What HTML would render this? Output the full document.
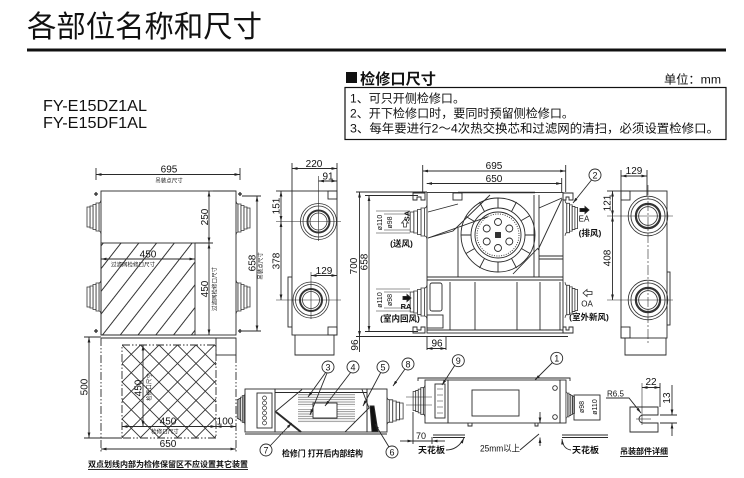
<!DOCTYPE html>
<html><head><meta charset="utf-8">
<style>
html,body{margin:0;padding:0;background:#fff;width:744px;height:478px;overflow:hidden;}
svg{display:block;}
text{font-family:"Liberation Sans","Noto Sans CJK SC",sans-serif;fill:#111;stroke:none;}
.b{font-weight:bold;}
.t{font-size:10px;text-anchor:middle;}
.s{font-size:5.5px;text-anchor:middle;}
.d{marker-start:url(#ar);marker-end:url(#ar);}
.dd{stroke-dasharray:8 2 1.5 2 1.5 2;}
</style></head><body>
<svg width="744" height="478" viewBox="0 0 744 478" xmlns="http://www.w3.org/2000/svg">
<defs>
<marker id="ar" viewBox="0 0 8 4" refX="8" refY="2" markerWidth="5.5" markerHeight="2.8" orient="auto-start-reverse" markerUnits="userSpaceOnUse"><path d="M0,0 L8,2 L0,4 z" fill="#222"/></marker>
<marker id="ae" viewBox="0 0 8 4" refX="8" refY="2" markerWidth="5.5" markerHeight="2.8" orient="auto" markerUnits="userSpaceOnUse"><path d="M0,0 L8,2 L0,4 z" fill="#222"/></marker>
<pattern id="h1" width="14" height="14" patternUnits="userSpaceOnUse" patternTransform="rotate(38)"><line x1="7" y1="0" x2="7" y2="14" stroke="#333" stroke-width="1"/></pattern>
<pattern id="h2" width="18.5" height="18.5" patternUnits="userSpaceOnUse" patternTransform="translate(122,345)"><path d="M0,0 L18.5,18.5 M18.5,0 L0,18.5" stroke="#333" stroke-width="0.9" fill="none"/></pattern>
<pattern id="fin" width="4" height="2.4" patternUnits="userSpaceOnUse"><line x1="0" y1="1.2" x2="4" y2="1.2" stroke="#666" stroke-width="0.7"/></pattern>
<g id="fl" fill="#fff" stroke="#333" stroke-width="0.8">
 <path vector-effect="non-scaling-stroke" d="M0,-17 Q-0.5,-14 -2,-14 L-2,14 Q-0.5,14 0,17"/>
 <rect vector-effect="non-scaling-stroke" x="-5" y="-14" width="3" height="28"/>
 <rect vector-effect="non-scaling-stroke" x="-8" y="-12.5" width="3" height="25"/>
 <rect vector-effect="non-scaling-stroke" x="-11" y="-11" width="3" height="22"/>
 <rect vector-effect="non-scaling-stroke" x="-14" y="-10" width="3" height="20"/>
</g>
<g id="port" fill="none" stroke="#333">
 <circle r="18" stroke-width="0.8"/>
 <circle r="15.5" stroke-width="0.8"/>
 <circle r="11" stroke-width="2"/>
 <circle r="8.5" stroke-width="0.8"/>
</g>
</defs>

<!-- HEADER -->
<text x="27" y="37" font-size="30" textLength="235" lengthAdjust="spacingAndGlyphs">各部位名称和尺寸</text>
<rect x="27" y="48.5" width="699" height="3" fill="#111"/>
<rect x="346" y="72" width="11" height="11" fill="#111"/>
<text x="360" y="84" font-size="15" class="b" textLength="76" lengthAdjust="spacingAndGlyphs">检修口尺寸</text>
<text x="664" y="83.5" font-size="12" textLength="57" lengthAdjust="spacingAndGlyphs">单位：mm</text>
<rect x="345" y="87.5" width="381" height="52" fill="none" stroke="#111" stroke-width="1.2"/>
<text x="350" y="102.5" font-size="12" textLength="115" lengthAdjust="spacingAndGlyphs">1、可只开侧检修口。</text>
<text x="350" y="117.5" font-size="12" textLength="224" lengthAdjust="spacingAndGlyphs">2、开下检修口时，要同时预留侧检修口。</text>
<text x="350" y="132.5" font-size="12" textLength="369" lengthAdjust="spacingAndGlyphs">3、每年要进行2～4次热交换芯和过滤网的清扫，必须设置检修口。</text>
<text x="43" y="111" font-size="16" textLength="104" lengthAdjust="spacingAndGlyphs">FY-E15DZ1AL</text>
<text x="43" y="128" font-size="16" textLength="104" lengthAdjust="spacingAndGlyphs">FY-E15DF1AL</text>

<g fill="none" stroke="#2a2a2a" stroke-width="0.9">
<!-- ===== TOP VIEW ===== -->
<use href="#fl" transform="translate(101,217)"/>
<use href="#fl" transform="translate(101,297)"/>
<use href="#fl" transform="translate(236,218) scale(-1,1)"/>
<use href="#fl" transform="translate(236,297) scale(-1,1)"/>
<rect x="101" y="191" width="135" height="144"/>
<line x1="101" y1="338" x2="236" y2="338"/>
<rect x="101" y="243" width="94" height="92" fill="url(#h1)"/>
<rect x="122" y="345" width="94" height="93" fill="url(#h2)" class="dd"/>
<rect x="216" y="338" width="20" height="17"/>
<line x1="101" y1="338" x2="101" y2="452" class="dd"/>
<line x1="236" y1="355" x2="236" y2="452" class="dd"/>
<!-- corner marks -->
<path d="M94,194 h4 M96,192 v4 M238,194 h4 M240,192 v4 M238,331 h4 M240,329 v4 M94,331 h4 M96,329 v4" stroke-width="1.3"/>
<!-- dims -->
<line x1="96" y1="174.5" x2="240" y2="174.5" class="d"/>
<line x1="96" y1="168" x2="96" y2="180"/><line x1="240" y1="168" x2="240" y2="180"/>
<line x1="209" y1="191" x2="209" y2="243" class="d"/>
<line x1="209" y1="243" x2="209" y2="335" class="d"/>
<line x1="195" y1="243" x2="213" y2="243"/>
<line x1="236" y1="191" x2="213" y2="191"/>
<line x1="101" y1="259" x2="195" y2="259" class="d"/>
<line x1="257" y1="196" x2="257" y2="331" class="d"/>
<line x1="242" y1="196" x2="261" y2="196"/><line x1="242" y1="331" x2="261" y2="331"/>
<line x1="89" y1="337" x2="89" y2="438" class="d"/>
<line x1="84" y1="337" x2="101" y2="337"/><line x1="84" y1="438" x2="122" y2="438"/>
<line x1="143" y1="345" x2="143" y2="426.5" class="d"/>
<line x1="122" y1="426.5" x2="216" y2="426.5" class="d"/>
<line x1="216" y1="426.5" x2="236" y2="426.5" class="d"/>
<line x1="101" y1="449" x2="236" y2="449" class="d"/>

<!-- ===== SIDE VIEW 1 ===== -->
<rect x="288" y="277" width="4" height="50"/>
<rect x="292" y="191" width="45" height="144" fill="#fff"/>
<rect x="328" y="191" width="9" height="8"/>
<rect x="328" y="327" width="9" height="8"/>
<path d="M295,335 V355 H334 V335"/>
<use href="#port" transform="translate(318.5,221.5)"/>
<use href="#port" transform="translate(311,300)"/>
<line x1="276" y1="221.5" x2="341" y2="221.5" stroke-width="0.6"/>
<line x1="318.5" y1="176" x2="318.5" y2="241" stroke-width="0.6"/>
<line x1="276" y1="300" x2="341" y2="300" stroke-width="0.6"/>
<line x1="311" y1="272" x2="311" y2="319" stroke-width="0.6"/>
<line x1="292" y1="168.5" x2="337" y2="168.5" class="d"/>
<line x1="292" y1="163" x2="292" y2="191"/><line x1="337" y1="163" x2="337" y2="191"/>
<line x1="318.5" y1="181" x2="337" y2="181" class="d"/>
<line x1="281" y1="191" x2="281" y2="221.5" class="d"/>
<line x1="281" y1="221.5" x2="281" y2="300" class="d"/>
<line x1="276" y1="191" x2="292" y2="191"/>
<line x1="311" y1="275.5" x2="337" y2="275.5" class="d"/>

<!-- ===== FRONT VIEW ===== -->
<line x1="356" y1="192" x2="427" y2="192"/>
<line x1="356" y1="336.5" x2="427" y2="336.5"/>
<line x1="365" y1="195.5" x2="418" y2="195.5"/>
<line x1="365" y1="331.5" x2="418" y2="331.5"/>
<line x1="359.5" y1="192" x2="359.5" y2="336.5" class="d"/>
<line x1="369" y1="195.5" x2="369" y2="331.5" class="d"/>
<line x1="359.5" y1="336.5" x2="359.5" y2="352"/>
<use href="#fl" transform="translate(427,222) scale(1.2,1)"/>
<use href="#fl" transform="translate(427,302) scale(1.2,1)"/>
<use href="#fl" transform="translate(565,218) scale(-0.9,1.05)"/>
<use href="#fl" transform="translate(565,300) scale(-0.9,1.05)"/>
<rect x="427" y="192.5" width="136" height="140.5"/>
<line x1="420" y1="336.5" x2="568" y2="336.5"/>
<path d="M413,193 h12 v7 h-4 v-3 h-4 v3 h-4 z"/>
<path d="M413,333 h12 v-6 h-4 v3 h-4 v-3 h-4 z"/>
<path d="M563,193 h10 v7 h-4 v-3 h-3 v3 h-3 z"/>
<path d="M563,333 h10 v-6 h-4 v3 h-3 v-3 h-3 z"/>
<!-- interior -->
<line x1="458" y1="192.5" x2="535" y2="192.5" stroke-width="1.6"/>
<rect x="453" y="193" width="9" height="7"/>
<line x1="428" y1="212" x2="458" y2="204"/>
<path d="M428,238 L453,231 L490,195"/>
<line x1="428" y1="238" x2="488" y2="216.7"/>
<line x1="458" y1="228" x2="458" y2="277"/>
<line x1="534" y1="195" x2="534" y2="277"/>
<line x1="539" y1="195" x2="539" y2="277"/>
<line x1="539" y1="208" x2="562" y2="198"/>
<line x1="538" y1="250" x2="562" y2="199"/>
<line x1="513" y1="274" x2="538" y2="248"/>
<line x1="539" y1="256" x2="563" y2="256"/>
<line x1="539" y1="259" x2="563" y2="259"/>
<!-- fan -->
<circle cx="498" cy="235" r="37"/>
<circle cx="498" cy="235" r="27"/>
<path d="M498,198 V208 M516.5,202 L511.5,211.6 M530,215.5 L521.4,220.5 M535,235 H525 M530,253.5 L521.4,248.5 M516.5,268 L511.5,258.4 M498,272 V262 M479.5,268 L484.5,258.4 M466,253.5 L474.6,248.5 M461,235 H471 M466,216.5 L474.6,221.5 M479.5,202 L484.5,211.6"/>
<circle cx="498" cy="235" r="23"/>
<circle cx="498" cy="235" r="21" stroke-dasharray="1 1.4"/>
<circle cx="498" cy="222" r="3.5"/><circle cx="509.3" cy="228.5" r="3.5"/><circle cx="509.3" cy="241.5" r="3.5"/>
<circle cx="498" cy="248" r="3.5"/><circle cx="486.7" cy="241.5" r="3.5"/><circle cx="486.7" cy="228.5" r="3.5"/>
<rect x="495.5" y="232.5" width="5" height="5" fill="#333"/>
<line x1="427" y1="277" x2="563" y2="277"/>
<line x1="427" y1="280" x2="563" y2="280"/>
<line x1="450" y1="282" x2="450" y2="330"/>
<line x1="475" y1="282" x2="475" y2="330"/>
<line x1="517" y1="282" x2="517" y2="330"/>
<line x1="540" y1="282" x2="540" y2="330"/>
<line x1="560" y1="282" x2="560" y2="330"/>
<line x1="427" y1="330" x2="563" y2="330"/>
<rect x="430" y="283" width="12" height="28" rx="2"/>
<rect x="427" y="315" width="16" height="13"/>
<!-- diameter ext lines -->
<path d="M376,211 H410 M384,214 H410 M384,230 H410 M376,233 H410" stroke-width="0.6"/>
<path d="M376,289 H410 M384,292 H410 M384,308 H410 M376,311 H410" stroke-width="0.6"/>
<line x1="427" y1="336.5" x2="427" y2="350"/><line x1="446" y1="336.5" x2="446" y2="350"/>
<line x1="427" y1="348.5" x2="446" y2="348.5" class="d"/>
<!-- dims top -->
<line x1="422.7" y1="171" x2="565.7" y2="171" class="d"/>
<line x1="422.7" y1="165" x2="422.7" y2="192"/><line x1="565.7" y1="165" x2="565.7" y2="192"/>
<line x1="426.7" y1="183.5" x2="561.7" y2="183.5" class="d"/>
<line x1="561.7" y1="178" x2="561.7" y2="192"/>
<!-- EA / OA arrows -->
<path d="M580,208.5 H585 V206.5 L589,210 L585,213.5 V211.5 H580 Z" fill="#111"/>
<path d="M592,291.5 H587 V289.5 L583,293 L587,296.5 V294.5 H592 Z" stroke-width="0.8"/>
<path d="M403,296.5 H407 V294.5 L411,298 L407,301.5 V299.5 H403 Z" fill="#111"/>
<path d="M403.5,227 V223 H401.5 L405,219 L408.5,223 H406.5 V227 Z" stroke-width="0.7"/>
<!-- circled 2 -->
<line x1="591.5" y1="180" x2="573" y2="203" marker-end="url(#ae)"/>
<circle cx="595" cy="175" r="6" fill="#fff"/>

<!-- ===== RIGHT SIDE VIEW ===== -->
<rect x="667" y="272" width="3" height="53"/>
<rect x="621" y="191" width="46" height="147" fill="#fff"/>
<rect x="621" y="191" width="9" height="9"/>
<rect x="621" y="327" width="9" height="11"/>
<path d="M625,338 V355 H666 V338"/>
<use href="#port" transform="translate(648,216) scale(1.1)"/>
<use href="#port" transform="translate(648,300) scale(1.1)"/>
<line x1="648" y1="185" x2="648" y2="345" stroke-dasharray="10 2 2 2" stroke-width="0.6"/>
<line x1="607" y1="216" x2="673" y2="216" stroke-width="0.6"/>
<line x1="607" y1="300" x2="673" y2="300" stroke-width="0.6"/>
<line x1="621" y1="176" x2="647" y2="176" class="d"/>
<line x1="621" y1="170" x2="621" y2="191"/><line x1="647" y1="170" x2="647" y2="196"/>
<line x1="612.5" y1="191" x2="612.5" y2="216" class="d"/>
<line x1="612.5" y1="216" x2="612.5" y2="300" class="d"/>
<line x1="607" y1="191" x2="621" y2="191"/>

<!-- ===== INTERNAL STRUCTURE ===== -->
<use href="#fl" transform="translate(245,409) scale(0.55,0.95)"/>
<use href="#fl" transform="translate(387,411) scale(-1.15,0.8)"/>
<rect x="245" y="389" width="30" height="43"/>
<rect x="257" y="393" width="15" height="35"/>
<g stroke-width="0.7">
<circle cx="264.5" cy="398" r="2"/><circle cx="264.5" cy="403" r="2"/><circle cx="264.5" cy="408" r="2"/>
<circle cx="264.5" cy="413" r="2"/><circle cx="264.5" cy="418" r="2"/><circle cx="264.5" cy="423" r="2"/>
</g>
<rect x="275" y="389" width="92" height="43"/>
<line x1="275" y1="392.5" x2="367" y2="392.5"/>
<line x1="245" y1="434" x2="387" y2="434"/>
<rect x="367" y="389" width="20" height="43"/>
<rect x="298" y="393.5" width="57" height="13" fill="url(#fin)" stroke="none"/>
<rect x="298" y="409" width="57" height="14" fill="url(#fin)" stroke="none"/>
<path d="M275,412 L302,389.5 M362,389.5 L369,408 L345,432"/>
<line x1="276" y1="412" x2="301" y2="432" stroke-width="2"/>
<rect x="313" y="403" width="24" height="15" fill="#fff"/>
<polygon points="370,406 374,406 378,431.5 372,431.5" fill="#111"/>
<!-- leaders -->
<line x1="326" y1="372" x2="308" y2="397" marker-end="url(#ae)"/>
<line x1="327" y1="373" x2="310" y2="415" marker-end="url(#ae)"/>
<line x1="351" y1="372" x2="325" y2="406" marker-end="url(#ae)"/>
<line x1="381" y1="372" x2="363" y2="406" marker-end="url(#ae)"/>
<line x1="405" y1="369" x2="393" y2="386" marker-end="url(#ae)"/>
<line x1="270" y1="446" x2="291.7" y2="423" marker-end="url(#ae)"/>
<line x1="389" y1="447" x2="375" y2="424" marker-end="url(#ae)"/>
<circle cx="328" cy="367" r="6" fill="#fff"/>
<circle cx="353" cy="367" r="6" fill="#fff"/>
<circle cx="383" cy="367" r="6" fill="#fff"/>
<circle cx="408" cy="364" r="6" fill="#fff"/>
<circle cx="266" cy="450" r="6" fill="#fff"/>
<circle cx="392" cy="452" r="6" fill="#fff"/>

<!-- ===== INSTALLATION SIDE VIEW ===== -->
<use href="#fl" transform="translate(425,401) scale(0.85,0.95)"/>
<line x1="406" y1="397" x2="432" y2="397" stroke-width="0.6"/>
<line x1="406" y1="405" x2="432" y2="405" stroke-width="0.6"/>
<path d="M418,381 V378 H570 V381"/>
<rect x="425" y="380" width="23" height="43"/>
<rect x="435" y="384" width="10" height="34"/>
<g stroke-width="0.6">
<path d="M437,389 h6 M437,395 h6 M437,401 h6 M437,407 h6 M437,413 h6"/>
</g>
<rect x="448" y="380" width="112" height="43"/>
<rect x="472" y="390" width="47" height="26"/>
<rect x="560" y="380" width="6" height="43"/>
<circle cx="555" cy="388" r="2.3"/><circle cx="555" cy="417" r="2.3"/>
<use href="#fl" transform="translate(566,405) scale(-0.6,0.85)"/>
<rect x="574" y="395" width="26" height="25"/>
<path d="M468,423 v3 h4 v-3 M535,423 v3 h3 v-3"/>
<line x1="433" y1="435" x2="465" y2="435"/>
<line x1="433" y1="437.5" x2="465" y2="437.5"/>
<line x1="562" y1="435" x2="608" y2="435"/>
<line x1="562" y1="437.5" x2="608" y2="437.5"/>
<path d="M446,450 Q458,450 464,438" marker-end="url(#ae)"/>
<path d="M571,450 Q563,449 562,439" marker-end="url(#ae)"/>
<line x1="413" y1="412" x2="413" y2="444"/>
<line x1="432" y1="437" x2="432" y2="444"/>
<line x1="400" y1="441" x2="413" y2="441" marker-end="url(#ae)"/>
<line x1="445" y1="441" x2="432" y2="441" marker-end="url(#ae)"/>
<line x1="413" y1="441" x2="432" y2="441"/>
<line x1="540" y1="412" x2="540" y2="423" marker-end="url(#ae)"/>
<line x1="540" y1="446" x2="540" y2="437.5" marker-end="url(#ae)"/>
<line x1="520" y1="450" x2="539" y2="434"/>
<line x1="455" y1="365" x2="442" y2="385" marker-end="url(#ae)"/>
<line x1="553" y1="362" x2="535" y2="380" marker-end="url(#ae)"/>
<circle cx="458.3" cy="360.7" r="6" fill="#fff"/>
<circle cx="556.7" cy="358.3" r="6" fill="#fff"/>

<!-- ===== BRACKET DETAIL ===== -->
<path d="M658,407 H630 V432 H658 V423 H643 A4,4 0 0 1 643,415 H658 Z"/>
<line x1="636" y1="419" x2="651" y2="419" stroke-width="0.6"/>
<line x1="642" y1="383" x2="642" y2="425" stroke-width="0.6"/>
<line x1="660" y1="383" x2="660" y2="407"/>
<line x1="642" y1="387.5" x2="660" y2="387.5" class="d"/>
<line x1="660" y1="415" x2="677" y2="415"/>
<line x1="660" y1="423" x2="677" y2="423"/>
<line x1="672" y1="385" x2="672" y2="415" marker-end="url(#ae)"/>
<line x1="672" y1="436" x2="672" y2="423" marker-end="url(#ae)"/>
<path d="M606,398 H629 L641,413" marker-end="url(#ae)"/>
</g>

<!-- ===== TEXT LABELS ===== -->
<!-- top view -->
<text x="169" y="172.5" class="t">695</text>
<text x="169" y="182.5" class="s">吊装点尺寸</text>
<text transform="translate(208,217) rotate(-90)" class="t">250</text>
<text transform="translate(208,289) rotate(-90)" class="t">450</text>
<text transform="translate(216.5,289) rotate(-90)" class="s">过滤网检修口尺寸</text>
<text x="148" y="257.5" class="t">450</text>
<text x="133" y="266.5" class="s">过滤网检修口尺寸</text>
<text transform="translate(255.5,263) rotate(-90)" class="t">658</text>
<text transform="translate(262.5,266) rotate(-90)" class="s">吊装点尺寸</text>
<text transform="translate(87.5,387) rotate(-90)" class="t">500</text>
<text transform="translate(141.5,388) rotate(-90)" class="t">450</text>
<text transform="translate(151,387) rotate(-90)" class="s">检修口尺寸</text>
<text x="168" y="424.5" class="t">450</text>
<text x="225" y="424.5" class="t">100</text>
<text x="165" y="433.5" class="s">检修口尺寸</text>
<text x="168" y="447" class="t">650</text>
<text x="88" y="467" font-size="8.2" class="b" textLength="160" lengthAdjust="spacingAndGlyphs">双点划线内部为检修保留区不应设置其它装置</text>
<rect x="88" y="469" width="160" height="0.9" fill="#111"/>
<!-- side view 1 -->
<text x="314" y="167" class="t">220</text>
<text x="328" y="179.5" class="t">91</text>
<text transform="translate(279.5,206) rotate(-90)" class="t">151</text>
<text transform="translate(279.5,261) rotate(-90)" class="t">378</text>
<text x="324" y="274" class="t">129</text>
<!-- front view -->
<text transform="translate(357,266) rotate(-90)" class="t">700</text>
<text transform="translate(367.5,262) rotate(-90)" class="t">658</text>
<text transform="translate(358,345) rotate(-90)" class="t">96</text>
<text x="437" y="346.5" class="t">96</text>
<text x="494" y="169" class="t">695</text>
<text x="494" y="182" class="t">650</text>
<text transform="translate(382,222.5) rotate(-90)" font-size="7" text-anchor="middle">ø110</text>
<text transform="translate(392,222.5) rotate(-90)" font-size="7" text-anchor="middle">ø98</text>
<text transform="translate(409.5,216) rotate(-90)" font-size="7.5" text-anchor="middle" class="b">SA</text>
<text x="401.5" y="246.5" font-size="8.5" text-anchor="middle" class="b">(送风)</text>
<text transform="translate(382,300) rotate(-90)" font-size="7" text-anchor="middle">ø110</text>
<text transform="translate(392,300) rotate(-90)" font-size="7" text-anchor="middle">ø98</text>
<text x="406" y="309" font-size="7.5" text-anchor="middle" class="b">RA</text>
<text x="400" y="321.5" font-size="8.5" text-anchor="middle" class="b">(室内回风)</text>
<text x="584" y="221.5" font-size="8" text-anchor="middle">EA</text>
<text x="590" y="236" font-size="8.5" text-anchor="middle" class="b">(排风)</text>
<text x="587" y="306.5" font-size="8" text-anchor="middle">OA</text>
<text x="589" y="320" font-size="8.5" text-anchor="middle" class="b">(室外新风)</text>
<text x="595" y="178.3" font-size="9" text-anchor="middle">2</text>
<!-- right side view -->
<text x="634" y="174" class="t">129</text>
<text transform="translate(610.5,203) rotate(-90)" class="t">121</text>
<text transform="translate(610.5,258) rotate(-90)" class="t">408</text>
<!-- internal -->
<text x="328" y="370.3" font-size="9" text-anchor="middle">3</text>
<text x="353" y="370.3" font-size="9" text-anchor="middle">4</text>
<text x="383" y="370.3" font-size="9" text-anchor="middle">5</text>
<text x="408" y="367.3" font-size="9" text-anchor="middle">8</text>
<text x="266" y="453.3" font-size="9" text-anchor="middle">7</text>
<text x="392" y="455.3" font-size="9" text-anchor="middle">6</text>
<text x="282" y="456.5" font-size="8.5" class="b" textLength="81" lengthAdjust="spacingAndGlyphs">检修门 打开后内部结构</text>
<!-- installation -->
<text x="458.3" y="364" font-size="9" text-anchor="middle">9</text>
<text x="556.7" y="361.6" font-size="9" text-anchor="middle">1</text>
<text transform="translate(584,407) rotate(-90)" font-size="7" text-anchor="middle">ø98</text>
<text transform="translate(597,407) rotate(-90)" font-size="7" text-anchor="middle">ø110</text>
<text x="421" y="439" font-size="9" text-anchor="middle">70</text>
<text x="418" y="453" font-size="8.5" class="b" textLength="27" lengthAdjust="spacingAndGlyphs">天花板</text>
<text x="572" y="453" font-size="8.5" class="b" textLength="27" lengthAdjust="spacingAndGlyphs">天花板</text>
<text x="480" y="451.5" font-size="9" textLength="40" lengthAdjust="spacingAndGlyphs">25mm以上</text>
<!-- bracket -->
<text x="651" y="385" class="t">22</text>
<text transform="translate(670,398) rotate(-90)" class="t">13</text>
<text x="607" y="396.5" font-size="8">R6.5</text>
<text x="620" y="454" font-size="8.2" class="b" textLength="48" lengthAdjust="spacingAndGlyphs">吊装部件详细</text>
<rect x="620" y="456" width="48" height="0.9" fill="#111"/>
</svg>
</body></html>
